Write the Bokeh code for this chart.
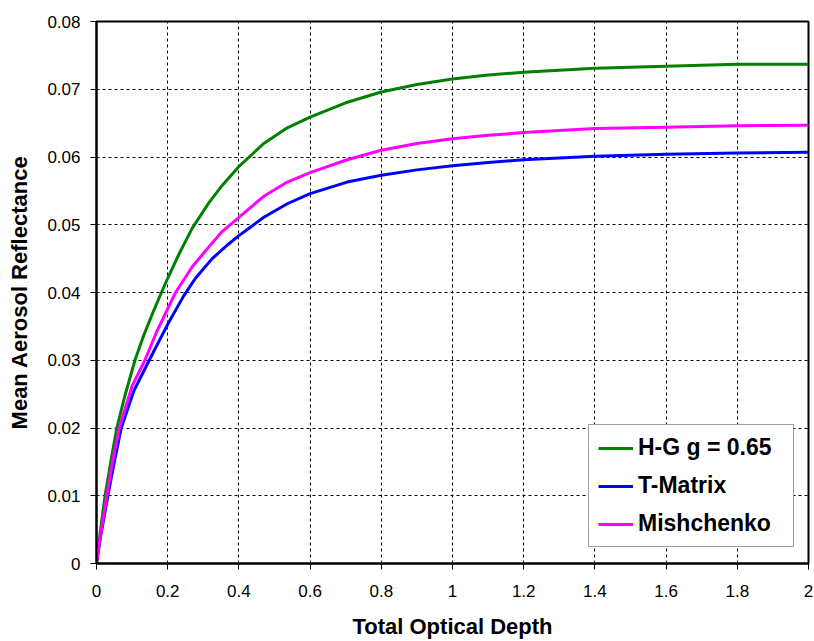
from bokeh.plotting import figure
from bokeh.models import Range1d, FixedTicker, NumeralTickFormatter, Legend, LegendItem
from bokeh.embed import file_html
from bokeh.resources import INLINE

# ---- data ----
hg_x = [0, 0.008, 0.024, 0.040, 0.057, 0.080, 0.108, 0.130, 0.155, 0.180, 0.2, 0.231, 0.269, 0.315, 0.353, 0.4,
        0.47, 0.536, 0.6, 0.7, 0.8, 0.9, 1.0, 1.1, 1.2, 1.4, 1.6, 1.8, 2.0]
hg_y = [0, 0.0036, 0.0100, 0.0150, 0.0200, 0.0248, 0.0300, 0.0333, 0.0366, 0.0397, 0.0421, 0.0456, 0.0495, 0.0532,
        0.0558, 0.0586, 0.0620, 0.0643, 0.0659, 0.0680, 0.0696, 0.0707, 0.0715, 0.0721, 0.0725, 0.0731, 0.0734,
        0.0737, 0.0737]

tm_x = [0, 0.010, 0.032, 0.050, 0.0695, 0.105, 0.148, 0.2, 0.245, 0.278, 0.325, 0.372, 0.4, 0.47, 0.536, 0.6,
        0.704, 0.8, 0.9, 1.0, 1.1, 1.2, 1.4, 1.6, 1.8, 2.0]
tm_y = [0, 0.0035, 0.0100, 0.0150, 0.0200, 0.0255, 0.0300, 0.0353, 0.0395, 0.0421, 0.0450, 0.0472, 0.0484, 0.0511,
        0.0531, 0.0546, 0.0563, 0.0573, 0.0581, 0.0587, 0.0592, 0.0596, 0.0601, 0.0604, 0.0606, 0.0607]

mi_x = [0, 0.010, 0.029, 0.045, 0.064, 0.1, 0.136, 0.17, 0.2, 0.222, 0.269, 0.315, 0.353, 0.4, 0.47, 0.536, 0.6,
        0.704, 0.8, 0.9, 1.0, 1.1, 1.2, 1.4, 1.6, 1.8, 2.0]
mi_y = [0, 0.0037, 0.0100, 0.0150, 0.0200, 0.0262, 0.0300, 0.0343, 0.0376, 0.0400, 0.0438, 0.0467, 0.0490, 0.0511,
        0.0542, 0.0563, 0.0577, 0.0596, 0.0610, 0.0620, 0.0627, 0.0632, 0.0636, 0.0642, 0.0644, 0.0646, 0.0647]

series_names = ["H-G g = 0.65", "T-Matrix", "Mishchenko"]

x_ticks = [0, 0.2, 0.4, 0.6, 0.8, 1.0, 1.2, 1.4, 1.6, 1.8, 2.0]
x_tick_labels = ["0", "0.2", "0.4", "0.6", "0.8", "1", "1.2", "1.4", "1.6", "1.8", "2"]
y_ticks = [0, 0.01, 0.02, 0.03, 0.04, 0.05, 0.06, 0.07, 0.08]
y_tick_labels = ["0", "0.01", "0.02", "0.03", "0.04", "0.05", "0.06", "0.07", "0.08"]

x_title = "Total Optical Depth"
y_title = "Mean Aerosol Reflectance"

FONT = "Liberation Sans"

p = figure(width=814, height=641, output_backend="svg", toolbar_location=None,
           x_range=Range1d(0, 2), y_range=Range1d(0, 0.08))
p.min_border_left = 96
p.min_border_right = 6
p.min_border_top = 21
p.min_border_bottom = 77
p.background_fill_color = "white"
p.border_fill_color = "white"
p.outline_line_color = "black"
p.outline_line_width = 2

for ax in (p.xaxis[0], p.yaxis[0]):
    ax.axis_line_width = 2
    ax.axis_line_color = "black"
    ax.major_tick_line_color = "black"
    ax.major_tick_line_width = 1
    ax.major_tick_out = 6
    ax.major_tick_in = 0
    ax.minor_tick_line_color = None
    ax.major_label_text_font = FONT
    ax.major_label_text_font_size = "17px"
    ax.major_label_text_color = "black"
    ax.axis_label_text_font = FONT
    ax.axis_label_text_font_size = "22px"
    ax.axis_label_text_font_style = "bold"
    ax.axis_label_text_color = "black"

p.xaxis[0].ticker = FixedTicker(ticks=x_ticks)
p.yaxis[0].ticker = FixedTicker(ticks=y_ticks)
p.xaxis[0].formatter = NumeralTickFormatter(format="0.[00]")
p.yaxis[0].formatter = NumeralTickFormatter(format="0.[00]")
p.xaxis[0].major_label_overrides = dict(zip(x_ticks, x_tick_labels))
p.yaxis[0].major_label_overrides = dict(zip(y_ticks, y_tick_labels))
p.xaxis[0].axis_label = x_title
p.yaxis[0].axis_label = y_title
p.xaxis[0].major_label_standoff = 15
p.yaxis[0].major_label_standoff = 10
p.xaxis[0].axis_label_standoff = 14
p.yaxis[0].axis_label_standoff = 12

for g in (p.xgrid[0], p.ygrid[0]):
    g.grid_line_color = "black"
    g.grid_line_dash = "3 3"
    g.grid_line_width = 1

r_hg = p.line(hg_x, hg_y, line_color="#008000", line_width=3, line_join="round")
r_tm = p.line(tm_x, tm_y, line_color="#0000FF", line_width=3, line_join="round")
r_mi = p.line(mi_x, mi_y, line_color="#FF00FF", line_width=3, line_join="round")

legend = Legend(items=[LegendItem(label=series_names[0], renderers=[r_hg]),
                       LegendItem(label=series_names[1], renderers=[r_tm]),
                       LegendItem(label=series_names[2], renderers=[r_mi])],
                location=(492, 16))
legend.label_text_font = FONT
legend.label_text_font_size = "23px"
legend.label_text_font_style = "bold"
legend.label_text_color = "black"
legend.padding = 9
legend.spacing = 11
legend.glyph_height = 24
legend.label_height = 24
legend.glyph_width = 35
legend.label_width = 146
legend.label_standoff = 5
legend.border_line_color = "#444444"
legend.border_line_width = 1
legend.background_fill_color = "white"
legend.background_fill_alpha = 1
legend.margin = 0
p.add_layout(legend, "center")

open("out.html", "w").write(file_html(p, INLINE))
